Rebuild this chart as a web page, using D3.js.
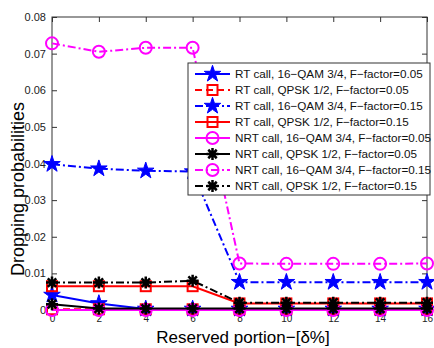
<!DOCTYPE html>
<html>
<head>
<meta charset="utf-8">
<script src="https://cdn.jsdelivr.net/npm/d3@7"></script>
<style>
  body { margin: 0; background: #fff; }
  svg { font-family: "Liberation Sans", Arial, sans-serif; }
</style>
</head>
<body>
<div id="chart"></div>
<script>
const width = 434, height = 348;
const margin = { top: 17, right: 7, bottom: 38, left: 52 };

// data
const reserved = [0, 2, 4, 6, 8, 10, 12, 14, 16];
const rtQam005 = [0.0041, 0.0018, 0.0003, 0.0003, 0.0003, 0.0003, 0.0003, 0.0003, 0.0003];
const rtQpsk005 = [0.0002, 0.0002, 0.0002, 0.0002, 0.0002, 0.0002, 0.0002, 0.0002, 0.0002];
const rtQam015 = [0.0398, 0.0386, 0.0380, 0.0378, 0.0076, 0.0076, 0.0076, 0.0076, 0.0076];
const rtQpsk015 = [0.0065, 0.0065, 0.0065, 0.0065, 0.0018, 0.0018, 0.0018, 0.0018, 0.0018];
const nrtQam005 = [0.0, 0.0, 0.0, 0.0, 0.0, 0.0, 0.0, 0.0, 0.0];
const nrtQpsk005 = [0.0016, 0.0004, 0.0004, 0.0004, 0.0004, 0.0004, 0.0004, 0.0004, 0.0004];
const nrtQam015 = [0.0728, 0.0705, 0.0716, 0.0716, 0.0127, 0.0126, 0.0126, 0.0126, 0.0127];
const nrtQpsk015 = [0.0075, 0.0075, 0.0075, 0.0080, 0.0020, 0.0020, 0.0020, 0.0020, 0.0020];
const yTicks = [0, 0.01, 0.02, 0.03, 0.04, 0.05, 0.06, 0.07, 0.08];

const series = [
  { name: "RT call, 16\u2212QAM 3/4, F\u2212factor=0.05", values: rtQam005, color: "#0000ff", dash: null, marker: "star" },
  { name: "RT call, QPSK 1/2, F\u2212factor=0.05", values: rtQpsk005, color: "#ff0000", dash: "7,4", marker: "square" },
  { name: "RT call, 16\u2212QAM 3/4, F\u2212factor=0.15", values: rtQam015, color: "#0000ff", dash: "8,3,2,3", marker: "star" },
  { name: "RT call, QPSK 1/2, F\u2212factor=0.15", values: rtQpsk015, color: "#ff0000", dash: null, marker: "square" },
  { name: "NRT call, 16\u2212QAM 3/4, F\u2212factor=0.05", values: nrtQam005, color: "#ff00ff", dash: null, marker: "circle" },
  { name: "NRT call, QPSK 1/2, F\u2212factor=0.05", values: nrtQpsk005, color: "#000000", dash: null, marker: "asterisk" },
  { name: "NRT call, 16\u2212QAM 3/4, F\u2212factor=0.15", values: nrtQam015, color: "#ff00ff", dash: "8,3,2,3", marker: "circle" },
  { name: "NRT call, QPSK 1/2, F\u2212factor=0.15", values: nrtQpsk015, color: "#000000", dash: "8,3,2,3", marker: "asterisk" }
];

const svg = d3.select("#chart").append("svg")
  .attr("width", width)
  .attr("height", height);

const x = d3.scaleLinear().domain([0, 16]).range([margin.left, width - margin.right]);
const y = d3.scaleLinear().domain([0, 0.08]).range([height - margin.bottom, margin.top]);

const plotW = width - margin.right - margin.left;
const plotH = height - margin.bottom - margin.top;

// axes (ticks inside, box around)
svg.append("g")
  .attr("transform", `translate(0,${height - margin.bottom})`)
  .call(d3.axisBottom(x).tickValues(reserved).tickSizeInner(-5).tickSizeOuter(0).tickPadding(5))
  .call(g => g.select(".domain").remove())
  .call(g => g.selectAll(".tick text").attr("font-size", 10));
svg.append("g")
  .attr("transform", `translate(${margin.left},0)`)
  .call(d3.axisLeft(y).tickValues(yTicks).tickFormat(d => d === 0 ? "0" : d3.format(".2f")(d)).tickSizeInner(-5).tickSizeOuter(0).tickPadding(6))
  .call(g => g.select(".domain").remove())
  .call(g => g.selectAll(".tick text").attr("font-size", 11));
svg.append("g")
  .attr("transform", `translate(0,${margin.top})`)
  .call(d3.axisTop(x).tickValues(reserved).tickSizeInner(-5).tickSizeOuter(0).tickFormat(""))
  .call(g => g.select(".domain").remove());
svg.append("g")
  .attr("transform", `translate(${width - margin.right},0)`)
  .call(d3.axisRight(y).tickValues(yTicks).tickSizeInner(-5).tickSizeOuter(0).tickFormat(""))
  .call(g => g.select(".domain").remove());

svg.selectAll(".tick line").attr("stroke", "#333");
svg.selectAll(".tick text").attr("fill", "#222");

svg.append("rect")
  .attr("x", margin.left).attr("y", margin.top)
  .attr("width", plotW).attr("height", plotH)
  .attr("fill", "none").attr("stroke", "#333").attr("stroke-width", 1);

// markers
const starPath = d3.symbol().type(d3.symbolStar).size(85)();
function drawMarker(g, type, color) {
  if (type === "star") {
    g.append("path").attr("d", starPath).attr("fill", color).attr("stroke", color).attr("stroke-width", 1);
  } else if (type === "square") {
    g.append("rect").attr("x", -5).attr("y", -5).attr("width", 10).attr("height", 10)
      .attr("fill", "none").attr("stroke", color).attr("stroke-width", 2);
  } else if (type === "circle") {
    g.append("circle").attr("r", 6).attr("fill", "none").attr("stroke", color).attr("stroke-width", 2);
  } else if (type === "asterisk") {
    const r = 6;
    const d = d3.range(4).map(i => {
      const a = i * Math.PI / 4;
      return `M${-r * Math.cos(a)},${-r * Math.sin(a)}L${r * Math.cos(a)},${r * Math.sin(a)}`;
    }).join("");
    g.append("path").attr("d", d).attr("stroke", color).attr("stroke-width", 2.5);
  }
}

const line = d3.line().x((d, i) => x(reserved[i])).y(d => y(d));

series.forEach(s => {
  const g = svg.append("g");
  g.append("path")
    .datum(s.values)
    .attr("d", line)
    .attr("fill", "none")
    .attr("stroke", s.color)
    .attr("stroke-width", 2)
    .attr("stroke-dasharray", s.dash);
  s.values.forEach((v, i) => {
    drawMarker(g.append("g").attr("transform", `translate(${x(reserved[i])},${y(v)})`), s.marker, s.color);
  });
});

// legend
const legX = 188, legY = 63, legW = 242, rowH = 16;
const legend = svg.append("g");
legend.append("rect")
  .attr("x", legX).attr("y", legY)
  .attr("width", legW).attr("height", rowH * series.length + 4)
  .attr("fill", "#fff").attr("stroke", "#333").attr("stroke-width", 1);
series.forEach((s, i) => {
  const cy = legY + 11 + i * rowH;
  legend.append("line")
    .attr("x1", legX + 7).attr("x2", legX + 42)
    .attr("y1", cy).attr("y2", cy)
    .attr("stroke", s.color).attr("stroke-width", 2)
    .attr("stroke-dasharray", s.dash);
  drawMarker(legend.append("g").attr("transform", `translate(${legX + 24.5},${cy})`), s.marker, s.color);
  legend.append("text")
    .attr("x", legX + 47).attr("y", cy + 4)
    .attr("font-size", 11.7).attr("fill", "#111")
    .text(s.name);
});

// axis titles
svg.append("text")
  .attr("x", 243)
  .attr("y", height - 5)
  .attr("text-anchor", "middle")
  .attr("font-size", 17)
  .text("Reserved portion\u2212[\u03b4%]");
svg.append("text")
  .attr("transform", `translate(24,189) rotate(-90)`)
  .attr("text-anchor", "middle")
  .attr("font-size", 18)
  .text("Dropping probabilities");
</script>
</body>
</html>
